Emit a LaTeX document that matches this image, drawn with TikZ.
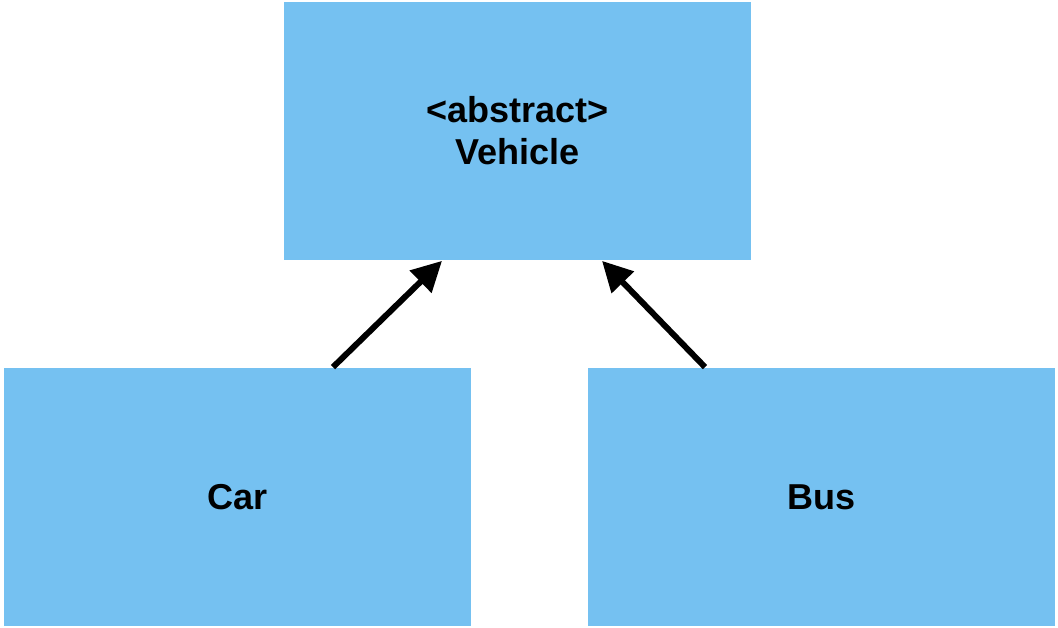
\documentclass[tikz,border=0pt]{standalone}
\usepackage{fontspec}
\setmainfont{Liberation Sans}
\usetikzlibrary{arrows.meta}
\definecolor{boxblue}{HTML}{75C1F1}

\begin{document}
\begin{tikzpicture}[line width = 1pt,
  classbox/.style={fill=boxblue, minimum width=9.34cm, minimum height=5.16cm, inner sep=0pt, align=center, font=\fontsize{20.5}{24}\selectfont\bfseries},
  inherit/.style={line width=3.4pt, -{Triangle[length=0.6cm, width=0.6cm]}}]

\useasboundingbox (0,0) rectangle (21.16,12.56);

\node [classbox] (vehicle) at (10.35,9.94) {<abstract>\\Vehicle};

\node [classbox] (car) at (4.75,2.62) {Car};
\node [classbox] (bus) at (16.43,2.62) {Bus};

% inheritance arrows
\draw [inherit] ([xshift=1.91cm]car.north) -- ([xshift=-1.51cm]vehicle.south);
\draw [inherit] ([xshift=-2.33cm]bus.north) -- ([xshift=1.69cm]vehicle.south);

\end{tikzpicture}
\end{document}
